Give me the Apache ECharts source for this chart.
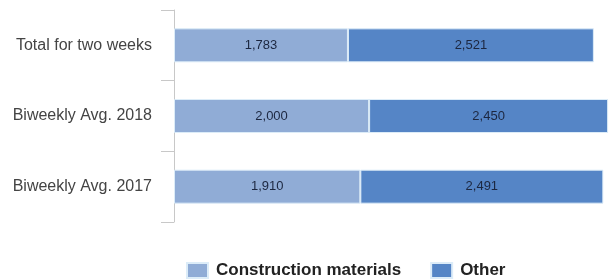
<!DOCTYPE html>
<html style="height: 100%; width: 100%">
  <head>
    <meta charset="utf-8" />
  </head>
  <body style="height: 100%; width: 100%; margin: 0">
    <div id="chart-panel" style="height: 279px; width: 615px"></div>
    <script
      type="text/javascript"
      src="https://cdn.jsdelivr.net/npm/echarts@6/dist/echarts.min.js"
    ></script>
    <script type="text/javascript">
      var categories = ["Total for two weeks", "Biweekly Avg. 2018", "Biweekly Avg. 2017"];
      var construction = [1783, 2000, 1910];
      var other = [2521, 2450, 2491];
      var seriesNames = ["Construction materials", "Other"];

      var dom = document.getElementById("chart-panel");
      var myChart = echarts.init(dom);

      function fmt(p) {
        return p.value.toLocaleString("en-US");
      }

      var labelStyle = {
        show: true,
        position: "inside",
        color: "#1c2740",
        fontFamily: "Liberation Sans",
        fontSize: 13,
        formatter: fmt,
      };

      var option = {
        animation: false,
        grid: { left: 174, right: 2, top: 10, bottom: 57 },
        legend: {
          left: 186,
          top: 262,
          padding: 0,
          itemWidth: 21,
          itemHeight: 15,
          itemGap: 29,
          icon: "rect",
          textStyle: {
            fontFamily: "Liberation Sans",
            fontWeight: "bold",
            fontSize: 17,
            lineHeight: 15,
            padding: [0, 0, 0, 3],
            color: "#222",
          },
          data: seriesNames,
        },
        xAxis: {
          type: "value",
          min: 0,
          max: 4500,
          show: false,
        },
        yAxis: {
          type: "category",
          inverse: true,
          data: categories,
          axisLine: { show: true, lineStyle: { color: "#c8c8c8" } },
          axisTick: { show: true, length: 13, lineStyle: { color: "#c8c8c8" } },
          axisLabel: {
            margin: 22,
            color: "#444",
            fontFamily: "Liberation Sans",
            fontSize: 16,
          },
        },
        series: [
          {
            name: seriesNames[0],
            type: "bar",
            stack: "total",
            barWidth: 34,
            itemStyle: { color: "#90acd6", borderColor: "#dcecf8", borderWidth: 1 },
            label: labelStyle,
            data: construction,
          },
          {
            name: seriesNames[1],
            type: "bar",
            stack: "total",
            barWidth: 34,
            itemStyle: { color: "#5585c6", borderColor: "#dcecf8", borderWidth: 1 },
            label: labelStyle,
            data: other,
          },
        ],
      };
      myChart.setOption(option);
    </script>
  </body>
</html>
